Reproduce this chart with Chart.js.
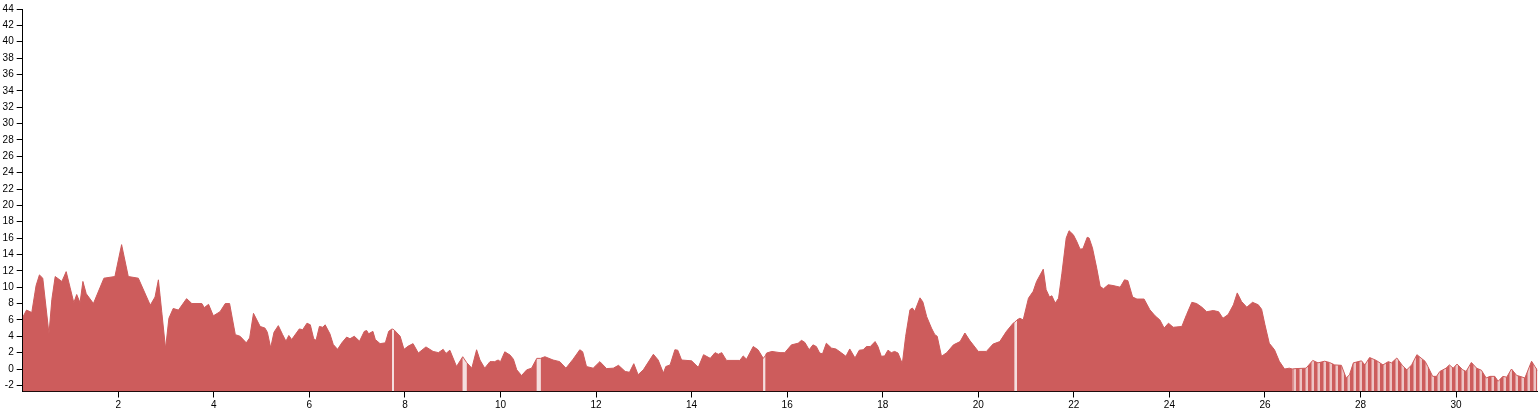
<!DOCTYPE html>
<html>
<head>
<meta charset="utf-8">
<script src="https://cdn.jsdelivr.net/npm/chart.js@4.4.1/dist/chart.umd.min.js"></script>
<style>
  html, body { margin: 0; padding: 0; background: #fff; }
  #wrap { width: 1540px; height: 410px; }
</style>
</head>
<body>
<div id="wrap"><canvas id="chart" width="1540" height="410"></canvas></div>
<script>
// x positions and values; null = missing sample (gap)
const xValues = [
  0.00, 0.08, 0.19, 0.28, 0.35, 0.42, 0.55, 0.61, 0.68, 0.82, 0.91, 0.99, 1.07, 1.13, 1.20, 1.26, 1.33, 1.48, 1.70, 1.93,
  2.07, 2.21, 2.42, 2.67, 2.77, 2.84, 2.91, 2.99, 3.06, 3.15, 3.26, 3.43, 3.54, 3.75, 3.80, 3.89, 3.99, 4.13, 4.24, 4.33,
  4.45, 4.55, 4.68, 4.75, 4.83, 4.97, 5.07, 5.12, 5.19, 5.26, 5.35, 5.44, 5.51, 5.57, 5.63, 5.79, 5.86, 5.95, 6.02, 6.09,
  6.14, 6.21, 6.28, 6.33, 6.43, 6.50, 6.59, 6.68, 6.78, 6.85, 6.94, 7.05, 7.15, 7.20, 7.24, 7.33, 7.38, 7.48, 7.59, 7.66,
  7.73, 7.75, 7.77, 7.90, 7.98, 8.07, 8.17, 8.28, 8.44, 8.59, 8.70, 8.80, 8.86, 8.94, 9.08, 9.21, 9.25, 9.29, 9.40, 9.50,
  9.57, 9.67, 9.78, 9.88, 9.95, 10.00, 10.09, 10.20, 10.27, 10.34, 10.44, 10.55, 10.65, 10.76, 10.80, 10.84, 10.93, 11.10, 11.24, 11.37,
  11.52, 11.66, 11.72, 11.80, 11.94, 12.08, 12.22, 12.36, 12.47, 12.61, 12.70, 12.79, 12.88, 12.99, 13.20, 13.30, 13.41, 13.46, 13.55, 13.65,
  13.71, 13.79, 14.00, 14.14, 14.25, 14.39, 14.49, 14.56, 14.63, 14.73, 15.01, 15.08, 15.15, 15.29, 15.39, 15.50, 15.52, 15.54, 15.57, 15.68,
  15.85, 15.95, 16.09, 16.23, 16.30, 16.37, 16.46, 16.54, 16.61, 16.68, 16.74, 16.82, 16.93, 17.02, 17.14, 17.23, 17.31, 17.42, 17.51, 17.59,
  17.66, 17.74, 17.84, 17.90, 17.97, 18.04, 18.11, 18.18, 18.25, 18.32, 18.41, 18.48, 18.57, 18.62, 18.67, 18.78, 18.84, 18.92, 19.02, 19.09,
  19.14, 19.23, 19.34, 19.48, 19.62, 19.72, 19.82, 20.00, 20.17, 20.31, 20.45, 20.59, 20.73, 20.76, 20.78, 20.81, 20.87, 20.94, 21.05, 21.15,
  21.22, 21.36, 21.42, 21.49, 21.54, 21.61, 21.68, 21.75, 21.84, 21.90, 21.99, 22.06, 22.13, 22.19, 22.28, 22.32, 22.39, 22.48, 22.55, 22.62,
  22.72, 22.82, 22.97, 23.06, 23.13, 23.23, 23.32, 23.47, 23.59, 23.70, 23.80, 23.89, 23.98, 24.08, 24.26, 24.36, 24.47, 24.57, 24.68, 24.78,
  24.92, 25.03, 25.12, 25.23, 25.34, 25.42, 25.51, 25.62, 25.74, 25.86, 25.93, 26.00, 26.09, 26.20, 26.30, 26.41, 26.51, 26.57, 26.65, 26.86,
  27.00, 27.11, 27.25, 27.35, 27.46, 27.60, 27.70, 27.77, 27.85, 28.02, 28.09, 28.19, 28.33, 28.47, 28.58, 28.65, 28.76, 28.88, 28.97, 29.07,
  29.18, 29.35, 29.41, 29.51, 29.59, 29.66, 29.79, 29.86, 29.94, 30.02, 30.14, 30.21, 30.32, 30.43, 30.53, 30.63, 30.71, 30.81, 30.88, 30.98,
  31.06, 31.16, 31.27, 31.34, 31.44, 31.58, 31.65, 31.72
];
const yValues = [
  6.3, 7.2, 6.9, 10.2, 11.5, 11.1, 4.3, 8.5, 11.3, 10.7, 11.9, 10.0, 8.1, 9.1, 8.1, 10.7, 9.2, 8.0, 11.1, 11.3,
  15.2, 11.3, 11.1, 7.8, 8.8, 10.9, 7.0, 2.5, 6.2, 7.4, 7.2, 8.6, 8.0, 8.0, 7.5, 7.9, 6.5, 7.0, 8.0, 8.0,
  4.2, 4.0, 3.2, 3.8, 6.8, 5.2, 5.0, 4.5, 2.6, 4.5, 5.3, 4.2, 3.4, 4.1, 3.6, 4.9, 4.8, 5.6, 5.4, 3.7,
  3.5, 5.2, 5.1, 5.4, 4.3, 3.0, 2.4, 3.2, 3.9, 3.7, 4.0, 3.4, 4.6, 4.7, 4.3, 4.6, 3.6, 3.1, 3.2, 4.6,
  4.9, null, 4.8, 4.0, 2.4, 2.8, 3.1, 1.95, 2.7, 2.15, 2.0, 2.4, 1.9, 2.3, 0.3, 1.5, null, 0.8, 0.1, 2.35,
  1.1, 0.1, 0.9, 0.9, 1.1, 0.9, 2.1, 1.7, 1.2, -0.1, -0.8, -0.1, 0.1, 1.3, null, 1.3, 1.5, 1.1, 0.9, 0.1,
  1.2, 2.35, 2.1, 0.3, 0.1, 0.9, 0.05, 0.1, 0.45, -0.3, -0.4, 0.65, -0.7, -0.1, 1.8, 1.1, -0.5, 0.3, 0.5, 2.35,
  2.3, 1.1, 1.0, 0.2, 1.75, 1.3, 2.0, 1.8, 2.0, 1.05, 1.05, 1.6, 1.2, 2.75, 2.35, 1.3, null, 1.6, 1.95, 2.15,
  2.0, 2.0, 2.95, 3.15, 3.5, 3.25, 2.35, 2.95, 2.75, 1.95, 1.85, 3.15, 2.55, 2.45, 1.95, 1.55, 2.45, 1.35, 2.3, 2.35,
  2.75, 2.75, 3.35, 2.75, 1.55, 1.6, 2.3, 2.0, 2.15, 1.95, 0.65, 4.0, 7.25, 7.45, 7.05, 8.7, 8.2, 6.4, 5.0, 4.2,
  4.0, 1.55, 2.0, 2.95, 3.35, 4.4, 3.5, 2.15, 2.15, 3.05, 3.35, 4.6, 5.6, 5.7, null, 6.0, 6.2, 6.0, 8.65, 9.5,
  10.7, 12.2, 9.7, 8.8, 8.95, 8.05, 8.65, 11.7, 16.0, 16.9, 16.4, 15.6, 14.65, 14.7, 16.1, 16.0, 14.8, 12.3, 10.1, 9.8,
  10.3, 10.2, 10.0, 10.9, 10.8, 8.8, 8.55, 8.55, 7.25, 6.5, 6.0, 5.0, 5.6, 5.1, 5.2, 6.65, 8.15, 8.0, 7.55, 7.0,
  7.15, 7.0, 6.2, 6.65, 7.85, 9.3, 8.25, 7.55, 8.15, 7.85, 7.3, 5.4, 3.15, 2.35, 0.95, 0.0, 0.1, 0.0, 0.05, 0.1,
  1.05, 0.75, 0.95, 0.8, 0.5, 0.45, -1.1, -0.7, 0.75, 1.0, 0.5, 1.4, 1.05, 0.5, 0.9, 0.75, 1.35, 0.4, -0.1, 0.5,
  1.75, 0.95, 0.3, -0.9, -0.9, -0.3, 0.1, 0.5, 0.1, 0.6, -0.1, -0.3, 0.8, 0.1, -0.15, -1.1, -0.9, -0.9, -1.5, -0.9,
  -1.0, 0.0, -0.8, -0.9, -1.1, 0.95, 0.3, -0.3
];
const xTicks = [2, 4, 6, 8, 10, 12, 14, 16, 18, 20, 22, 24, 26, 28, 30];
const yTicks = [-2, 0, 2, 4, 6, 8, 10, 12, 14, 16, 18, 20, 22, 24, 26, 28, 30, 32, 34, 36, 38, 40, 42, 44];
const stripedFrom = 26.57;

const RED = '#cd5c5c';
const PINK = 'rgba(205, 92, 92, 0.2)';

// vertical stripe pattern for the sparse tail
const stripeCanvas = document.createElement('canvas');
stripeCanvas.width = 6;
stripeCanvas.height = 4;
const sctx = stripeCanvas.getContext('2d');
sctx.fillStyle = PINK;
sctx.fillRect(0, 0, 6, 4);
sctx.fillStyle = RED;
sctx.fillRect(0, 0, 3.5, 4);
const stripes = sctx.createPattern(stripeCanvas, 'repeat');

const points = xValues.map((x, i) => ({ x: x, y: yValues[i] }));

const axisFont = { family: '"Liberation Sans", Arial, sans-serif', size: 10 };

new Chart(document.getElementById('chart').getContext('2d'), {
  type: 'line',
  data: {
    datasets: [
      {
        data: points,
        spanGaps: false,
        fill: 'start',
        backgroundColor: RED,
        borderColor: RED,
        borderWidth: 0,
        pointRadius: 0,
        tension: 0,
        segment: {
          backgroundColor: ctx => xValues[ctx.p0DataIndex] >= stripedFrom ? stripes : undefined
        }
      },
      {
        data: points,
        spanGaps: true,
        fill: 'start',
        backgroundColor: PINK,
        borderColor: RED,
        borderWidth: 1,
        pointRadius: 0,
        tension: 0
      }
    ]
  },
  options: {
    responsive: false,
    animation: false,
    events: [],
    layout: { padding: { top: 9, right: 2.7, left: 0, bottom: 0 } },
    plugins: { legend: { display: false }, tooltip: { enabled: false } },
    scales: {
      x: {
        type: 'linear',
        min: 0,
        max: 31.7,
        afterBuildTicks: axis => { axis.ticks = xTicks.map(v => ({ value: v })); },
        afterFit: scale => { scale.height = 18.5; },
        ticks: { color: '#000', font: axisFont, padding: 2, maxRotation: 0, autoSkip: false },
        grid: { drawOnChartArea: false, tickLength: 6, color: '#000' },
        border: { color: '#000', width: 1 }
      },
      y: {
        min: -2.75,
        max: 44,
        afterBuildTicks: axis => { axis.ticks = yTicks.map(v => ({ value: v })); },
        afterFit: scale => { scale.width = 22.7; },
        ticks: { color: '#000', font: axisFont, padding: 3, autoSkip: false },
        grid: { drawOnChartArea: false, tickLength: 6, color: '#000' },
        border: { color: '#000', width: 1 }
      }
    }
  }
});
</script>
</body>
</html>
